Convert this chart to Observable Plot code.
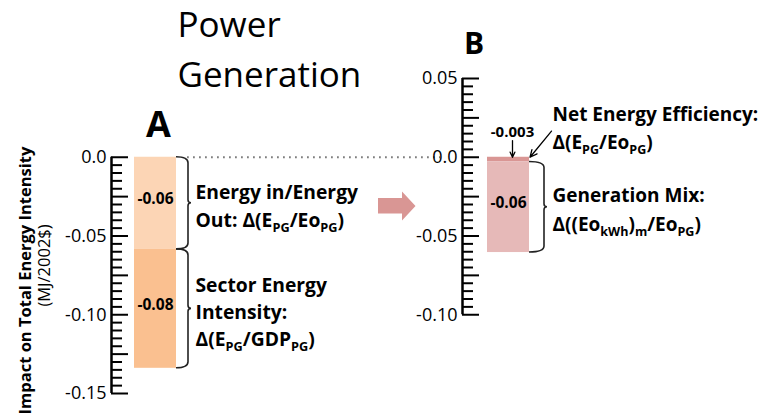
<!DOCTYPE html>
<html>
<head>
<meta charset="utf-8">
<script src="https://cdn.jsdelivr.net/npm/d3@7"></script>
<script src="https://cdn.jsdelivr.net/npm/@observablehq/plot@0.6"></script>
<style>
  html, body { margin: 0; padding: 0; background: #fff; }
</style>
</head>
<body>
<div id="chart"></div>
<script>
// ---------- data ----------
const componentsA = ["Energy in/Energy Out", "Sector Energy Intensity"];
const valuesA = [-0.0585, -0.0755];
const barLabelsA = ["-0.06", "-0.08"];

const componentsB = ["Net Energy Efficiency", "Generation Mix"];
const valuesB = [-0.003, -0.0575];
const barLabelsB = ["-0.003", "-0.06"];

const tickValuesA = [0, -0.05, -0.10, -0.15];
const tickLabelsA = ["0.0", "-0.05", "-0.10", "-0.15"];
const tickValuesB = [0.05, 0, -0.05, -0.10];
const tickLabelsB = ["0.05", "0.0", "-0.05", "-0.10"];

const annotA = [
  ["Energy in/Energy", "Out: \u0394(E_{PG}/Eo_{PG})"],
  ["Sector Energy", "Intensity:", "\u0394(E_{PG}/GDP_{PG})"]
];
const annotB = [
  ["Net Energy Efficiency:", "\u0394(E_{PG}/Eo_{PG})"],
  ["Generation Mix:", "\u0394((Eo_{kWh})_{m}/Eo_{PG})"]
];

// ---------- layout (pixels) ----------
const W = 771, H = 415;
const FONT = "'Open Sans', sans-serif";
const yOpts = {domain: [-0.15, 0.05], range: [393, 78]};
const yScale = Plot.scale({y: yOpts});
const py = px => yScale.invert(px);   // pixel row -> data value (for placing free text)

const panelA = {axisX: 111, barX1: 134, barX2: 176, lo: -0.15, hi: 0,
  colors: ["#FCD5B5", "#FAC090"]};
const panelB = {axisX: 462, barX1: 487, barX2: 529, lo: -0.10, hi: 0.05,
  colors: ["#D99694", "#E6B9B8"]};

function stack(values, labels, comps) {
  const ends = d3.cumsum(values);
  return values.map((v, i) => ({
    name: comps[i], label: labels[i], value: v,
    y1: i === 0 ? 0 : ends[i - 1], y2: ends[i]
  }));
}
const segA = stack(valuesA, barLabelsA, componentsA);
const segB = stack(valuesB, barLabelsB, componentsB);

function axisMarks(p, tickValues, tickLabels) {
  const n = Math.round((p.hi - p.lo) / 0.005);
  const ticks = d3.range(n + 1).map(i => ({v: +(p.lo + i * 0.005).toFixed(4), major: i % 5 === 0}));
  return [
    Plot.ruleY(ticks.filter(d => !d.major), {y: "v", x1: p.axisX, x2: p.axisX + 11, stroke: "black", strokeWidth: 2}),
    Plot.ruleY(ticks.filter(d => d.major), {y: "v", x1: p.axisX, x2: p.axisX + 17, stroke: "black", strokeWidth: 2}),
    Plot.ruleX([p.axisX], {y1: p.lo, y2: p.hi, stroke: "black", strokeWidth: 2.5}),
    Plot.text(tickValues, {x: p.axisX - 5, y: d => d, text: (d, i) => tickLabels[i],
      textAnchor: "end", lineAnchor: "middle", fontSize: 18, fill: "black"})
  ];
}

function barMarks(p, seg) {
  return [Plot.rect(seg, {x1: p.barX1, x2: p.barX2, y1: "y1", y2: "y2", fill: (d, i) => p.colors[i]})];
}

// curly brace drawn from segment extents through the y scale
function braceMark(segs, x0, opts = {}) {
  const arm = opts.arm ?? 12, tip = opts.tip ?? 3, r = opts.r ?? 6;
  return (...args) => {
    const scales = args.find(a => a && typeof a.y === "function");
    const g = d3.create("svg:g");
    for (const s of segs) {
      const ya = scales.y(s.y1), yb = scales.y(s.y2);
      const ym = (ya + yb) / 2, x1 = x0 + arm, x2 = x1 + tip;
      const path = `M${x0},${ya} Q${x1},${ya} ${x1},${ya + r} L${x1},${ym - 3} Q${x1},${ym} ${x2},${ym} Q${x1},${ym} ${x1},${ym + 3} L${x1},${yb - r} Q${x1},${yb} ${x0},${yb}`;
      g.append("path").attr("d", path).attr("fill", "none").attr("stroke", "#222").attr("stroke-width", 1.6);
    }
    return g.node();
  };
}

function blockArrow() {
  return () => {
    const g = d3.create("svg:g");
    const pts = [[378,198],[402,198],[402,191.5],[415.5,206],[402,220.5],[402,213.5],[378,213.5]];
    g.append("path").attr("d", "M" + pts.map(p => p.join(",")).join("L") + "Z").attr("fill", "#D99694");
    return g.node();
  };
}

function textAt(str, x, y, o = {}) {
  return Plot.text([str], {x: x, y: py(y), text: d => d,
    textAnchor: o.anchor ?? "start", lineAnchor: "middle",
    fontSize: o.size ?? 18, fontWeight: o.weight ?? "bold", fill: "black",
    rotate: o.rotate ?? 0});
}

function annotationMarks(lines, x, centers, size) {
  return lines.map((l, i) => textAt(l, x, centers[i], {size}));
}

const plot = Plot.plot({
  width: W, height: H, margin: 0,
  x: {domain: [0, W], range: [0, W], axis: null},
  y: {...yOpts, axis: null},
  style: {fontFamily: FONT, background: "white", overflow: "visible"},
  marks: [
    Plot.ruleY([0], {x1: 187, x2: 440, stroke: "#7f7f7f", strokeWidth: 1.8, strokeDasharray: "1.8,4.2"}),
    ...barMarks(panelA, segA),
    ...barMarks(panelB, segB),
    ...axisMarks(panelA, tickValuesA, tickLabelsA),
    ...axisMarks(panelB, tickValuesB, tickLabelsB),
    Plot.text(segA, {x: (panelA.barX1 + panelA.barX2) / 2, y: d => (d.y1 + d.y2) / 2, text: "label",
      dy: -4, fontSize: 15.5, fontWeight: "bold", fill: "black", lineAnchor: "middle"}),
    Plot.text(segB.slice(1), {x: (panelB.barX1 + panelB.barX2) / 2, y: d => (d.y1 + d.y2) / 2, text: "label",
      dy: -4, fontSize: 15.5, fontWeight: "bold", fill: "black", lineAnchor: "middle"}),
    Plot.text(segB.slice(0, 1), {x: (panelB.barX1 + panelB.barX2) / 2, y: "y1", text: "label",
      dx: 4, dy: -25, fontSize: 15, fontWeight: "bold", fill: "black", lineAnchor: "middle"}),
    Plot.arrow([segB[0]], {x1: 512, x2: 512, y1: 0.0106, y2: "y1", stroke: "black", strokeWidth: 1.3, headLength: 8, headAngle: 50}),
    Plot.arrow([segB[0]], {x1: 551, x2: 529.5, y1: 0.0166, y2: "y1", stroke: "black", strokeWidth: 1.3, headLength: 9, headAngle: 50}),
    braceMark(segA, panelA.barX2, {arm: 12, tip: 3, r: 6}),
    braceMark(segB.slice(1), panelB.barX2, {arm: 15, tip: 3, r: 6}),
    blockArrow(),
    ...annotationMarks(annotA[0], 195, [192.5, 220], 19.3),
    ...annotationMarks(annotA[1], 195, [285.5, 312, 339], 19.3),
    ...annotationMarks(annotB[0], 552, [114.5, 142.5], 19),
    ...annotationMarks(annotB[1], 552, [195.5, 224.5], 19),
    textAt("Power", 177, 25, {size: 35, weight: "normal"}),
    textAt("Generation", 177, 75, {size: 35, weight: "normal"}),
    textAt("A", 158, 125, {size: 36, anchor: "middle"}),
    textAt("B", 473.5, 44, {size: 30, anchor: "middle"}),
    textAt("Impact on Total Energy Intensity", 25, 280, {size: 16.5, anchor: "middle", rotate: -90}),
    textAt("(MJ/2002$)", 44.5, 265, {size: 16.5, weight: "normal", anchor: "middle", rotate: -90})
  ]
});

// subscripts: E_{PG} -> E with lowered small PG
function subscriptify(el, shift) {
  const src = el.textContent;
  if (!src.includes("_{")) return;
  const re = /_\{([^}]*)\}/g;
  const pieces = [];
  let last = 0, m;
  while ((m = re.exec(src))) {
    if (m.index > last) pieces.push({s: src.slice(last, m.index), sub: false});
    pieces.push({s: m[1], sub: true});
    last = re.lastIndex;
  }
  if (last < src.length) pieces.push({s: src.slice(last), sub: false});
  while (el.firstChild) el.removeChild(el.firstChild);
  let lowered = false;
  for (const p of pieces) {
    const ts = document.createElementNS("http://www.w3.org/2000/svg", "tspan");
    ts.textContent = p.s;
    if (p.sub && !lowered) { ts.setAttribute("dy", shift); lowered = true; }
    else if (!p.sub && lowered) { ts.setAttribute("dy", -shift); lowered = false; }
    if (p.sub) ts.setAttribute("font-size", "66%");
    el.appendChild(ts);
  }
}
d3.select(plot).selectAll("text").each(function () { subscriptify(this, 5); });

document.getElementById("chart").appendChild(plot);
</script>
</body>
</html>
